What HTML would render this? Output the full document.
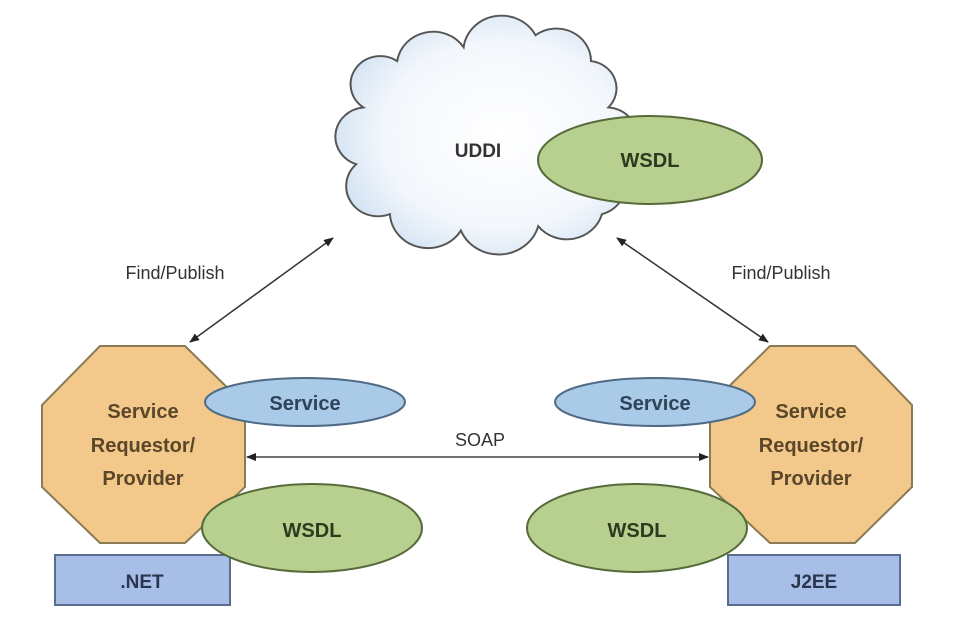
<!DOCTYPE html>
<html><head><meta charset="utf-8"><style>
html,body{margin:0;padding:0;background:#fff;}
text{font-family:"Liberation Sans",sans-serif;font-weight:bold;}
</style></head><body>
<svg width="954" height="625" viewBox="0 0 954 625" xmlns="http://www.w3.org/2000/svg">
<defs>
<radialGradient id="cg" cx="0.55" cy="0.5" r="0.65">
<stop offset="0" stop-color="#ffffff"/><stop offset="0.6" stop-color="#f3f7fc"/><stop offset="1" stop-color="#c6daef"/>
</radialGradient>
<marker id="ah" markerWidth="10" markerHeight="8" refX="9" refY="4" orient="auto-start-reverse" markerUnits="userSpaceOnUse">
<path d="M0,0 L10,4 L0,8 z" fill="#222"/></marker>
</defs>
<g transform="translate(480,135) scale(0.91,0.86) translate(-476,-144)">
<path d="M348,112 A32,32 0 0 1 385,58 A40,40 0 0 1 458,42 A42,42 0 0 1 537,28 A38,38 0 0 1 598,58 A32,32 0 0 1 617,112 A34,34 0 0 1 626,178 A35,35 0 0 1 610,236 A40,40 0 0 1 540,250 A45,45 0 0 1 455,255 A42,42 0 0 1 377,236 A35,35 0 0 1 340,178 A34,34 0 0 1 348,112 Z" fill="url(#cg)" stroke="#555" stroke-width="2.2"/>
</g>
<text x="478" y="157" font-size="19" fill="#333" text-anchor="middle">UDDI</text>
<ellipse cx="650" cy="160" rx="112" ry="44" fill="#b7d08f" stroke="#556b3a" stroke-width="2"/>
<text x="650" y="167" font-size="20" fill="#2c3a1e" text-anchor="middle">WSDL</text>

<line x1="333" y1="238" x2="190" y2="342" stroke="#333" stroke-width="1.5" marker-start="url(#ah)" marker-end="url(#ah)"/>
<line x1="617" y1="238" x2="768" y2="342" stroke="#333" stroke-width="1.5" marker-start="url(#ah)" marker-end="url(#ah)"/>
<text x="175" y="279" font-size="18" fill="#333" text-anchor="middle" style="font-weight:normal">Find/Publish</text>
<text x="781" y="279" font-size="18" fill="#333" text-anchor="middle" style="font-weight:normal">Find/Publish</text>

<polygon points="100,346 185,346 245,405 245,487 185,543 100,543 42,487 42,405" fill="#f2c98b" stroke="#8a7a55" stroke-width="2"/>
<polygon points="770,346 855,346 912,405 912,487 855,543 770,543 710,487 710,405" fill="#f2c98b" stroke="#8a7a55" stroke-width="2"/>
<g font-size="20" fill="#5a4628" text-anchor="middle">
<text x="143" y="418">Service</text><text x="143" y="452">Requestor/</text><text x="143" y="485">Provider</text>
<text x="811" y="418">Service</text><text x="811" y="452">Requestor/</text><text x="811" y="485">Provider</text>
</g>

<ellipse cx="305" cy="402" rx="100" ry="24" fill="#a9cbe8" stroke="#4f6a85" stroke-width="2"/>
<text x="305" y="410" font-size="20" fill="#2f4358" text-anchor="middle">Service</text>
<ellipse cx="655" cy="402" rx="100" ry="24" fill="#a9cbe8" stroke="#4f6a85" stroke-width="2"/>
<text x="655" y="410" font-size="20" fill="#2f4358" text-anchor="middle">Service</text>

<line x1="247" y1="457" x2="708" y2="457" stroke="#444" stroke-width="1.5" marker-start="url(#ah)" marker-end="url(#ah)"/>
<text x="480" y="446" font-size="18" fill="#333" text-anchor="middle" style="font-weight:normal">SOAP</text>

<rect x="55" y="555" width="175" height="50" fill="#a7bfe6" stroke="#5a6d8f" stroke-width="2"/>
<text x="142" y="588" font-size="19" fill="#2a3550" text-anchor="middle">.NET</text>
<rect x="728" y="555" width="172" height="50" fill="#a7bfe6" stroke="#5a6d8f" stroke-width="2"/>
<text x="814" y="588" font-size="19" fill="#2a3550" text-anchor="middle">J2EE</text>

<ellipse cx="312" cy="528" rx="110" ry="44" fill="#b7d08f" stroke="#556b3a" stroke-width="2"/>
<text x="312" y="537" font-size="20" fill="#2c3a1e" text-anchor="middle">WSDL</text>
<ellipse cx="637" cy="528" rx="110" ry="44" fill="#b7d08f" stroke="#556b3a" stroke-width="2"/>
<text x="637" y="537" font-size="20" fill="#2c3a1e" text-anchor="middle">WSDL</text>
</svg>
</body></html>
